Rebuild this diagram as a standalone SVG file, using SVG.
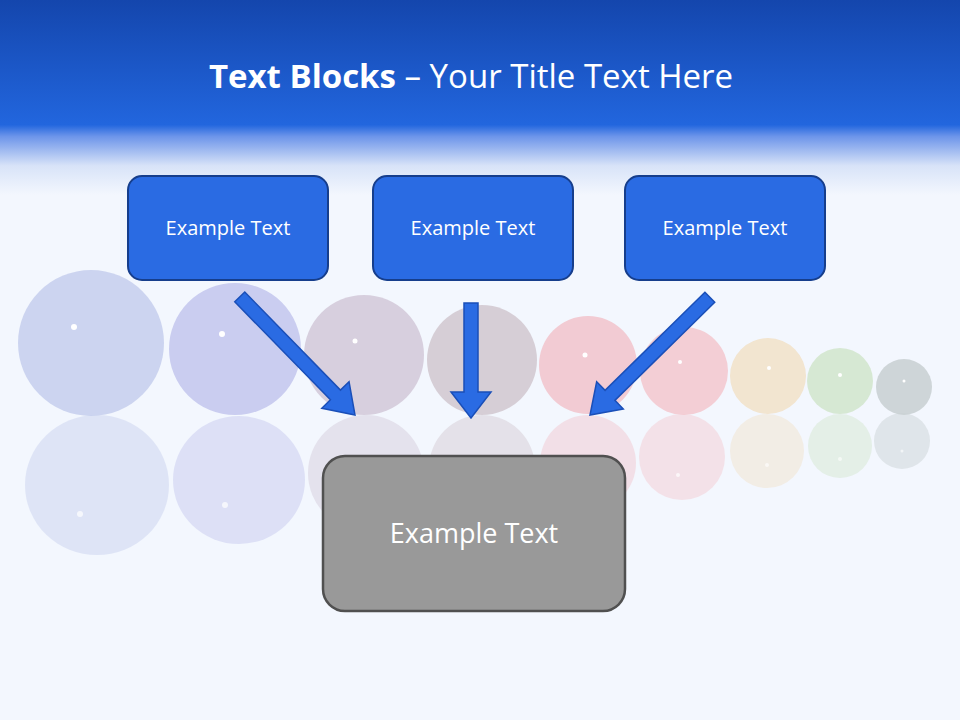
<svg xmlns="http://www.w3.org/2000/svg" width="960" height="720" viewBox="0 0 960 720">
<defs>
<linearGradient id="hdr" x1="0" y1="0" x2="0" y2="1">
<stop offset="0" stop-color="#1446ad"/>
<stop offset="0.64" stop-color="#2266de"/>
<stop offset="0.7" stop-color="#6d95ea"/>
<stop offset="0.85" stop-color="#d8e3f8"/>
<stop offset="1" stop-color="#f3f7fe"/>
</linearGradient>
<style>
.box{fill:#2a6be3;stroke:#163e8c;stroke-width:2}
.bt{font-family:"Open Sans","Liberation Sans",sans-serif;font-size:20px;fill:#fff;text-anchor:middle}
.ar{fill:#2a6be3;stroke:#1a4fb8;stroke-width:1.5}
.dot{fill:#fff}
</style>
</defs>
<rect width="960" height="720" fill="#f3f7fe"/>
<rect width="960" height="195" fill="url(#hdr)"/>
<text x="471" y="88" font-family="'Open Sans','Liberation Sans',sans-serif" font-size="33" fill="#fff" text-anchor="middle"><tspan font-weight="bold">Text Blocks</tspan> – Your Title Text Here</text>
<g id="spheres">
<g opacity="0.85">
<circle cx="91" cy="343" r="73" fill="#c6cfee"/>
<circle cx="235" cy="349" r="66" fill="#c3c6ee"/>
<circle cx="364" cy="355" r="60" fill="#d3c9d9"/>
<circle cx="482" cy="360" r="55" fill="#d2c8d0"/>
<circle cx="588" cy="365" r="49" fill="#f2c4cc"/>
<circle cx="684" cy="371" r="44" fill="#f4c8cf"/>
<circle cx="768" cy="376" r="38" fill="#f2e2c8"/>
<circle cx="840" cy="381" r="33" fill="#d2e6cc"/>
<circle cx="904" cy="387" r="28" fill="#c8d0d2"/>
</g>
<g opacity="0.45">
<ellipse cx="97" cy="485" rx="72" ry="70" fill="#c6cfee"/>
<ellipse cx="239" cy="480" rx="66" ry="64" fill="#c3c6ee"/>
<circle cx="366" cy="473" r="58" fill="#d3c9d9"/>
<circle cx="482" cy="468" r="53" fill="#d2c8d0"/>
<circle cx="588" cy="463" r="48" fill="#f2c4cc"/>
<circle cx="682" cy="457" r="43" fill="#f4c8cf"/>
<circle cx="767" cy="451" r="37" fill="#f2e2c8"/>
<circle cx="840" cy="446" r="32" fill="#d2e6cc"/>
<circle cx="902" cy="441" r="28" fill="#c8d0d2"/>
</g>
<g class="dot">
<circle cx="74" cy="327" r="3"/><circle cx="222" cy="334" r="3"/><circle cx="355" cy="341" r="2.5"/>
<circle cx="585" cy="355" r="2.5"/><circle cx="680" cy="362" r="2"/><circle cx="769" cy="368" r="2"/>
<circle cx="840" cy="375" r="2"/><circle cx="904" cy="381" r="1.5"/>
<circle cx="80" cy="514" r="3" opacity="0.7"/><circle cx="225" cy="505" r="3" opacity="0.7"/>
<circle cx="678" cy="475" r="2" opacity="0.7"/><circle cx="767" cy="465" r="2" opacity="0.6"/>
<circle cx="840" cy="459" r="2" opacity="0.6"/><circle cx="902" cy="451" r="1.5" opacity="0.6"/>
</g>
</g>
<g id="connectors">
<g transform="translate(355,415) rotate(-44.3)"><polygon class="ar" points="-7,-165 7,-165 7,-28 19,-28 0,0 -19,-28 -7,-28"/></g>
<g transform="translate(471,418)"><polygon class="ar" points="-7,-115 7,-115 7,-26 20,-26 0,0 -20,-26 -7,-26"/></g>
<g transform="translate(590,415) rotate(45.5)"><polygon class="ar" points="-7,-168 7,-168 7,-28 19,-28 0,0 -19,-28 -7,-28"/></g>
</g>
<g id="node1"><rect class="box" x="128" y="176" width="200" height="104" rx="14"/><text class="bt" x="228" y="235">Example Text</text></g>
<g id="node2"><rect class="box" x="373" y="176" width="200" height="104" rx="14"/><text class="bt" x="473" y="235">Example Text</text></g>
<g id="node3"><rect class="box" x="625" y="176" width="200" height="104" rx="14"/><text class="bt" x="725" y="235">Example Text</text></g>
<g id="node4"><rect x="323" y="456" width="302" height="155" rx="22" fill="#999" stroke="#505050" stroke-width="2.5"/><text x="474" y="543" font-family="'Open Sans','Liberation Sans',sans-serif" font-size="27" fill="#fff" text-anchor="middle">Example Text</text></g>
</svg>
